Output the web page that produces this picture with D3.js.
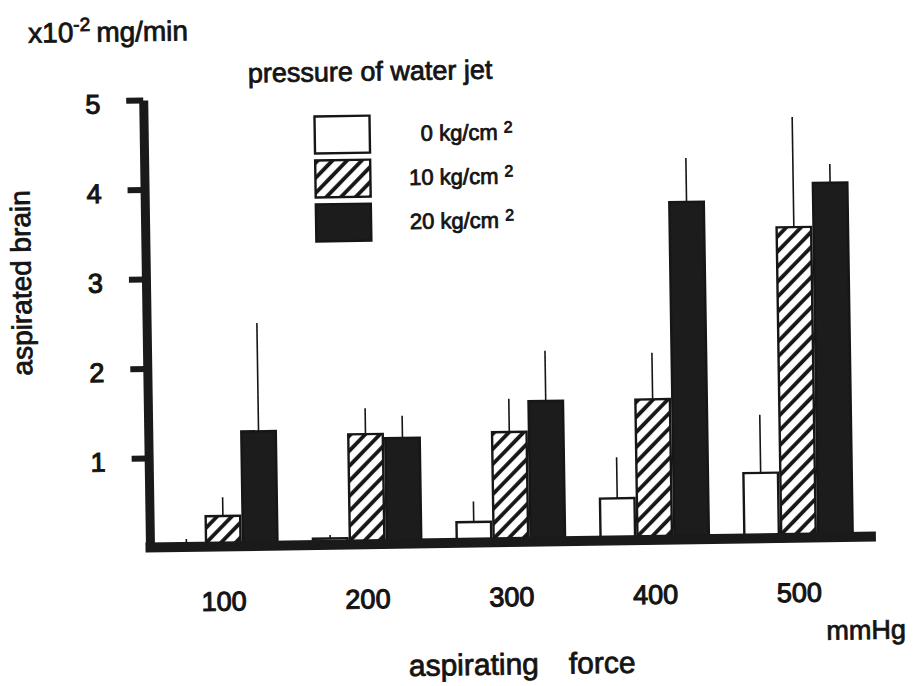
<!DOCTYPE html>
<html>
<head>
<meta charset="utf-8">
<script src="https://cdn.jsdelivr.net/npm/d3@7"></script>
<style>
  html, body { margin: 0; padding: 0; background: #fff; }
  svg { display: block; }
  text { font-family: "Liberation Sans", Arial, Helvetica, sans-serif; fill: #141414; stroke: #141414; stroke-width: 0.8px; }
</style>
</head>
<body>
<svg id="chart" width="914" height="686"></svg>
<script>
// aspirating force (mmHg) groups
const categories = ["100", "200", "300", "400", "500"];
// water-jet pressure series
const seriesKeys = ["p0", "p10", "p20"];
const seriesLabels = ["0 kg/cm", "10 kg/cm", "20 kg/cm"];
// mean aspirated brain (x10^-2 mg/min) and upper error (SD)
const mean0  = [0.03, 0.07, 0.23, 0.47, 0.73];
const sd0    = [0.06, 0.04, 0.23, 0.46, 0.65];
const mean10 = [0.34, 1.23, 1.23, 1.57, 3.47];
const sd10   = [0.21, 0.29, 0.37, 0.52, 1.23];
const mean20 = [1.28, 1.18, 1.57, 3.77, 3.96];
const sd20   = [1.21, 0.25, 0.56, 0.49, 0.21];
const yTicks = [1, 2, 3, 4, 5];

const series = [
  { key: "p0",  label: seriesLabels[0], means: mean0,  sds: sd0  },
  { key: "p10", label: seriesLabels[1], means: mean10, sds: sd10 },
  { key: "p20", label: seriesLabels[2], means: mean20, sds: sd20 }
];

const INK = "#161616";
const svg = d3.select("#chart");

// diagonal hatching for the 10 kg/cm2 series
const defs = svg.append("defs");
const pat = defs.append("pattern")
  .attr("id", "hatch")
  .attr("patternUnits", "userSpaceOnUse")
  .attr("width", 10.5).attr("height", 10.5)
  .attr("patternTransform", "rotate(45)");
pat.append("rect").attr("width", 10.5).attr("height", 10.5).attr("fill", "#fff");
pat.append("line").attr("x1", 2).attr("y1", -1).attr("x2", 2).attr("y2", 12)
  .attr("stroke", INK).attr("stroke-width", 3.8);

const fills = { p0: "#fff", p10: "url(#hatch)", p20: "#1c1c1c" };

// plot frame: y axis at x0, zero line at yZero; whole sheet sits slightly tilted
const x0 = 150, yZero = 547.5, yTop = 100, xEnd = 876;
const g = svg.append("g").attr("transform", `rotate(-0.87, ${x0}, ${yZero})`);

const y = d3.scaleLinear().domain([0, 5]).range([yZero, yTop]);
const x = d3.scaleBand().domain(categories).range([168, 854]).paddingInner(0.23).paddingOuter(0);
const xs = d3.scaleBand().domain(seriesKeys).range([0, x.bandwidth()]).padding(0);

// bars
const groups = g.selectAll("g.grp").data(categories).join("g")
  .attr("class", "grp")
  .attr("transform", d => `translate(${x(d)},0)`);

const cells = groups.selectAll("g.cell")
  .data((c, i) => series.map(s => ({ key: s.key, v: s.means[i], sd: s.sds[i] })))
  .join("g").attr("class", "cell");

cells.append("rect")
  .attr("x", d => xs(d.key) + 1.2)
  .attr("width", xs.bandwidth() - 2.4)
  .attr("y", d => y(d.v))
  .attr("height", d => yZero - y(d.v) + 3)
  .attr("fill", d => fills[d.key])
  .attr("stroke", INK)
  .attr("stroke-width", 2.4);

// error bars (upper only)
cells.append("line")
  .attr("x1", d => xs(d.key) + xs.bandwidth() / 2)
  .attr("x2", d => xs(d.key) + xs.bandwidth() / 2)
  .attr("y1", d => y(d.v))
  .attr("y2", d => y(d.v + d.sd))
  .attr("stroke", INK)
  .attr("stroke-width", 1.6);

// thick zero line
g.append("line")
  .attr("x1", x0 - 4.5).attr("x2", xEnd)
  .attr("y1", y(0)).attr("y2", y(0))
  .attr("stroke", "#1a1a1a").attr("stroke-width", 10);

// y axis
const yAxis = g.append("g")
  .attr("transform", `translate(${x0},0)`)
  .call(d3.axisLeft(y).tickValues(yTicks).tickSize(17).tickSizeOuter(0).tickPadding(26).tickFormat(d3.format("d")));
yAxis.select(".domain").attr("stroke", "#1a1a1a").attr("stroke-width", 9);
yAxis.selectAll(".tick line").attr("stroke", "#1a1a1a").attr("stroke-width", 6);
yAxis.selectAll(".tick text")
  .attr("font-size", 27).attr("font-family", null)
  .attr("dy", "0.46em")
  .style("stroke-width", "1.1px");
yAxis.attr("font-family", null).attr("font-size", null);

// x axis labels
const xAxis = g.append("g")
  .attr("transform", `translate(0,${yZero})`)
  .call(d3.axisBottom(x).tickSize(0).tickPadding(45));
xAxis.select(".domain").remove();
xAxis.selectAll(".tick text").attr("font-size", 27).style("stroke-width", "1.1px");
xAxis.attr("font-family", null).attr("font-size", null);

// unit label
const unit = g.append("text").attr("x", 36).attr("y", 41).attr("font-size", 28);
unit.append("tspan").text("x10");
unit.append("tspan").attr("font-size", 19).attr("dy", -11).text("-2");
unit.append("tspan").attr("dy", 11).attr("dx", 6).text("mg/min");

// y axis title
g.append("text")
  .attr("transform", "translate(35,281) rotate(-90)")
  .attr("text-anchor", "middle")
  .attr("font-size", 28)
  .text("aspirated brain");

// legend
g.append("text").attr("x", 255).attr("y", 84).attr("font-size", 27).text("pressure of water jet");

const leg = g.append("g").attr("transform", "translate(321,119)");
const legRows = leg.selectAll("g").data(series).join("g")
  .attr("transform", (d, i) => `translate(0,${i * 44})`);
legRows.append("rect")
  .attr("width", 55).attr("height", 37)
  .attr("fill", d => fills[d.key])
  .attr("stroke", INK).attr("stroke-width", 2.4);
const legText = legRows.append("text")
  .attr("x", 198).attr("y", 26)
  .attr("text-anchor", "end")
  .attr("font-size", 22);
legText.append("tspan").text(d => d.label + " ");
legText.append("tspan").attr("font-size", 16).attr("dy", -7).text("2");

// x axis unit and title
g.append("text").attr("x", 825).attr("y", 650).attr("font-size", 27).text("mmHg");
const xt = g.append("text").attr("y", 680).attr("font-size", 30);
xt.append("tspan").attr("x", 407).text("aspirating");
xt.append("tspan").attr("x", 567).text("force");
</script>
</body>
</html>
